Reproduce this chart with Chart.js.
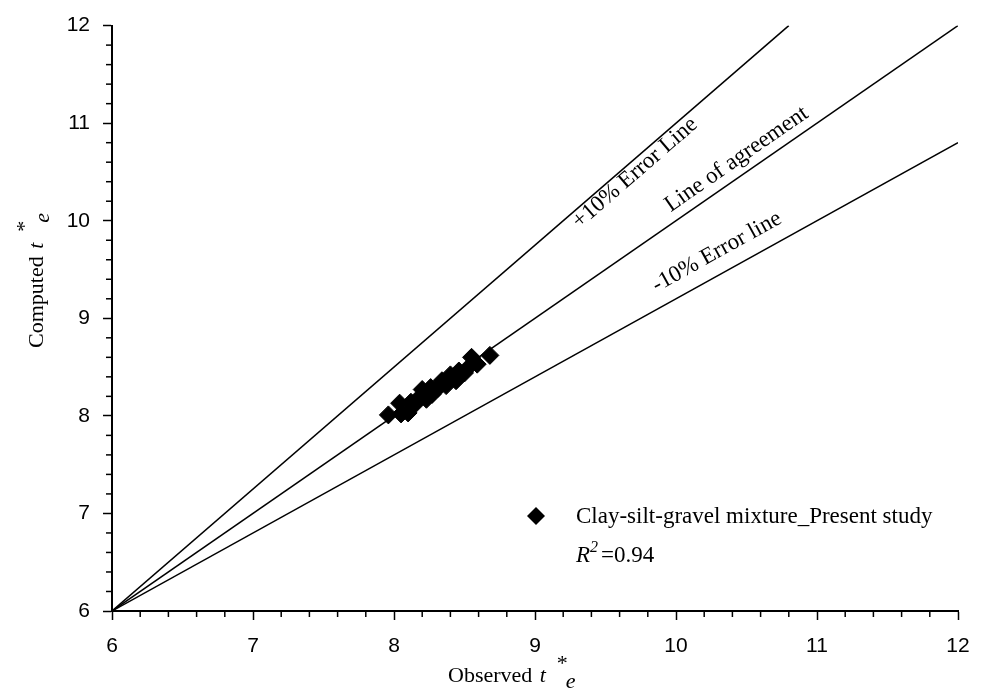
<!DOCTYPE html>
<html>
<head>
<meta charset="utf-8">
<script src="https://cdn.jsdelivr.net/npm/chart.js@4.4.1/dist/chart.umd.min.js"></script>
<style>
  body { margin: 0; background: #fff; }
  #wrap { width: 984px; height: 690px; }
</style>
</head>
<body>
<div id="wrap"><canvas id="chart-te" width="984" height="690"></canvas></div>
<script>
// observed vs computed t*e, clay-silt-gravel mixture
var observedTe = [7.96, 8.04, 8.05, 8.10, 8.12, 8.15, 8.18, 8.20, 8.23, 8.26, 8.27,
                  8.31, 8.34, 8.37, 8.40, 8.44, 8.46, 8.50, 8.53, 8.55, 8.59, 8.68];
var computedTe = [8.01, 8.13, 8.02, 8.03, 8.14, 8.12, 8.19, 8.27, 8.17, 8.29, 8.22,
                  8.28, 8.36, 8.31, 8.42, 8.36, 8.46, 8.44, 8.50, 8.60, 8.53, 8.62];

// reference lines, each from (6,6) out to the frame
var agreeX = [6, 12],   agreeY = [6, 12];
var plusX  = [6, 10.8], plusY  = [6, 12];
var minusX = [6, 12],   minusY = [6, 10.8];

var xTickLabels = ['6', '7', '8', '9', '10', '11', '12'];
var yTickLabels = ['6', '7', '8', '9', '10', '11', '12'];
var rSquared = '0.94';

function pairs(xs, ys) {
    return xs.map(function(x, i) { return {x: x, y: ys[i]}; });
}

function refLine(xs, ys) {
    return {
        type: 'line',
        data: pairs(xs, ys),
        borderColor: '#000',
        borderWidth: 1.5,
        pointRadius: 0,
        fill: false,
        showLine: true
    };
}

var serif = '"Liberation Serif", "Times New Roman", serif';

// minor ticks, axis titles, line labels and the legend box
var extras = {
    id: 'extras',
    afterDraw: function(chart) {
        var ctx = chart.ctx;
        var xs = chart.scales.x, ys = chart.scales.y;
        var area = chart.chartArea;
        ctx.save();
        ctx.strokeStyle = '#000';
        ctx.lineWidth = 1.5;
        for (var v = 6; v < 12; v += 0.2) {
            if (Math.abs(v - Math.round(v)) < 1e-6) continue;
            var px = xs.getPixelForValue(v);
            ctx.beginPath(); ctx.moveTo(px, area.bottom); ctx.lineTo(px, area.bottom + 6); ctx.stroke();
            var py = ys.getPixelForValue(v);
            ctx.beginPath(); ctx.moveTo(area.left, py); ctx.lineTo(area.left - 6, py); ctx.stroke();
        }

        ctx.fillStyle = '#000';
        ctx.textBaseline = 'alphabetic';
        ctx.textAlign = 'left';

        // axis title: word, then t with * above and e below
        function teTitle(word) {
            ctx.font = '22px ' + serif;
            ctx.fillText(word, 0, 0);
            var w = ctx.measureText(word + ' ').width;
            ctx.font = 'italic 22px ' + serif;
            ctx.fillText('t', w + 2, 0);
            ctx.font = '22px ' + serif;
            ctx.fillText('*', w + 19, -12);
            ctx.font = 'italic 22px ' + serif;
            ctx.fillText('e', w + 28, 6);
        }
        ctx.save();
        ctx.translate(448, 682);
        teTitle('Observed');
        ctx.restore();

        ctx.save();
        ctx.translate(43, 348);
        ctx.rotate(-Math.PI / 2);
        teTitle('Computed');
        ctx.restore();

        // labels laid along the reference lines
        function lineLabel(text, xv, yv, x0, y0, x1, y1) {
            var ang = Math.atan2(ys.getPixelForValue(y1) - ys.getPixelForValue(y0),
                                 xs.getPixelForValue(x1) - xs.getPixelForValue(x0));
            ctx.save();
            ctx.translate(xs.getPixelForValue(xv), ys.getPixelForValue(yv));
            ctx.rotate(ang);
            ctx.font = '23px ' + serif;
            ctx.textAlign = 'center';
            ctx.textBaseline = 'middle';
            ctx.fillText(text, 0, 0);
            ctx.restore();
        }
        lineLabel('+10% Error Line', 9.71, 10.49, plusX[0], plusY[0], plusX[1], plusY[1]);
        lineLabel('Line of agreement', 10.43, 10.63, agreeX[0], agreeY[0], agreeX[1], agreeY[1]);
        lineLabel('-10% Error line', 10.29, 9.68, minusX[0], minusY[0], minusX[1], minusY[1]);

        // legend
        ctx.beginPath();
        ctx.moveTo(536, 507); ctx.lineTo(545, 516); ctx.lineTo(536, 525); ctx.lineTo(527, 516);
        ctx.closePath();
        ctx.fill();
        ctx.font = '23px ' + serif;
        ctx.fillText('Clay-silt-gravel mixture_Present study', 576, 523);
        ctx.font = 'italic 23px ' + serif;
        ctx.fillText('R', 576, 562);
        var rw = ctx.measureText('R').width;
        ctx.font = 'italic 16px ' + serif;
        ctx.fillText('2', 576 + rw, 552);
        ctx.font = '23px ' + serif;
        ctx.fillText('=' + rSquared, 576 + rw + 11, 562);
        ctx.restore();
    }
};

var ctx = document.getElementById('chart-te');
var teChart = new Chart(ctx, {
    type: 'scatter',
    data: {
        datasets: [
            {
                label: 'Clay-silt-gravel mixture_Present study',
                data: pairs(observedTe, computedTe),
                pointStyle: 'rectRot',
                pointRadius: 9,
                pointHoverRadius: 9,
                backgroundColor: '#000',
                borderColor: '#000',
                borderWidth: 1
            },
            refLine(agreeX, agreeY),
            refLine(plusX, plusY),
            refLine(minusX, minusY)
        ]
    },
    options: {
        responsive: false,
        animation: false,
        layout: { padding: { top: 20, right: 26, left: 0, bottom: 0 } },
        plugins: {
            legend: { display: false },
            tooltip: { enabled: false }
        },
        scales: {
            x: {
                type: 'linear',
                min: 6, max: 12,
                afterFit: function(s) { s.height = 79; },
                grid: { drawOnChartArea: false, tickLength: 9, tickWidth: 1.5, tickColor: '#000' },
                border: { color: '#000', width: 2 },
                ticks: {
                    stepSize: 1,
                    padding: 14,
                    color: '#000',
                    font: { family: '"Liberation Sans", Arial, sans-serif', size: 21 },
                    callback: function(v) { return xTickLabels[Math.round(v) - 6]; }
                }
            },
            y: {
                type: 'linear',
                min: 6, max: 12,
                afterFit: function(s) { s.width = 112; },
                grid: { drawOnChartArea: false, tickLength: 9, tickWidth: 1.5, tickColor: '#000' },
                border: { color: '#000', width: 2 },
                ticks: {
                    stepSize: 1,
                    padding: 13,
                    color: '#000',
                    font: { family: '"Liberation Sans", Arial, sans-serif', size: 21 },
                    callback: function(v) { return yTickLabels[Math.round(v) - 6]; }
                }
            }
        }
    },
    plugins: [extras]
});
</script>
</body>
</html>
